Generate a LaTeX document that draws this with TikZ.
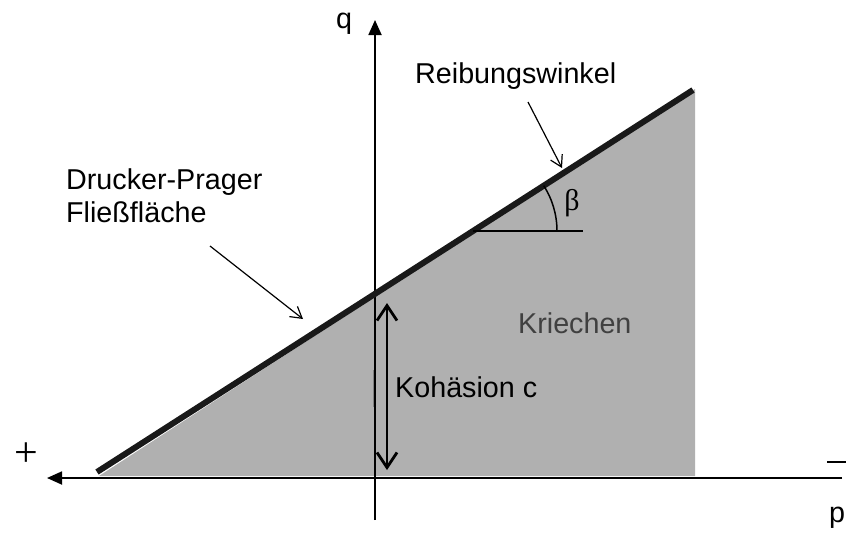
\documentclass[tikz,border=0pt]{standalone}
\usepackage{fontspec}
\setmainfont{Liberation Sans}
\newfontfamily\serifgr{Liberation Serif}
\usetikzlibrary{arrows.meta}
\definecolor{fillgray}{RGB}{176,176,176}
\definecolor{textgray}{RGB}{64,64,64}
\tikzset{
  lbl/.style={font=\fontsize{28.7}{33}\selectfont, inner sep=0pt},
  axisline/.style={line width=1.8pt, -{Triangle[length=15pt,width=13pt]}},
  pointer/.style={line width=1.2pt, -{Straight Barb[length=11pt,width=13pt,line width=1.2pt]}},
  cohesion/.style={line width=2.8pt, {Straight Barb[length=15pt,width=20pt]}-{Straight Barb[length=15pt,width=20pt]}},
}
\begin{document}
\begin{tikzpicture}[x=1pt,y=-1pt]
\useasboundingbox (0,0) rectangle (846,547);
% coordinates
\coordinate (lineL) at (97,472);
\coordinate (lineR) at (693,90);
\coordinate (xend) at (842,478);
\coordinate (xtip) at (47,478);
\coordinate (ybot) at (375,520);
\coordinate (ytip) at (375,20);
% region
\fill[fillgray] (99,476) -- (695,89) -- (695,476) -- cycle;
% axes
\draw[axisline] (xend) -- (xtip);
\draw[axisline] (ybot) -- (ytip);
\draw[gray, line width=1pt] (373,370) -- (373,407);
% yield line
\draw[line width=6pt, black!90] (lineL) -- (lineR);
% angle
\coordinate (angC) at (473,231);
\coordinate (angE) at (583,231);
\draw[line width=1.5pt] (angC) -- (angE);
\draw[line width=1.5pt] (557,231) arc[start angle=0, end angle=-32.7, radius=84];
\node[font=\serifgr\fontsize{30}{34}\selectfont, inner sep=0pt] (beta) at (572,203) {β};
% cohesion
\coordinate (cohTop) at (387,303);
\coordinate (cohBot) at (387,470);
\draw[cohesion] (cohBot) -- (cohTop);
\node[lbl, anchor=base west] (koh) at (395,397) {Kohäsion c};
\node[lbl, anchor=base west, text=textgray] (kriech) at (518,333) {Kriechen};
% labels
\node[lbl] (q) at (344,24) {q};
\node[lbl] (p) at (837,518) {p};
\node[font=\serifgr\fontsize{42}{46}\selectfont, inner sep=0pt] (plus) at (26,455) {+};
\draw[line width=1.5pt] (827,462) coordinate (mL) -- (846,462) coordinate (mR);
\node[lbl, anchor=base west] (reib) at (415,83) {Reibungswinkel};
\coordinate (rA) at (528,102);
\coordinate (rB) at (562,168);
\draw[pointer] (rA) -- (rB);
\node[lbl, anchor=base west] (dp1) at (66,189) {Drucker-Prager};
\node[lbl, anchor=base west] (dp2) at (66,222) {Fließfläche};
\coordinate (dA) at (210,246);
\coordinate (dB) at (303,319);
\draw[pointer] (dA) -- (dB);
\end{tikzpicture}
\end{document}
